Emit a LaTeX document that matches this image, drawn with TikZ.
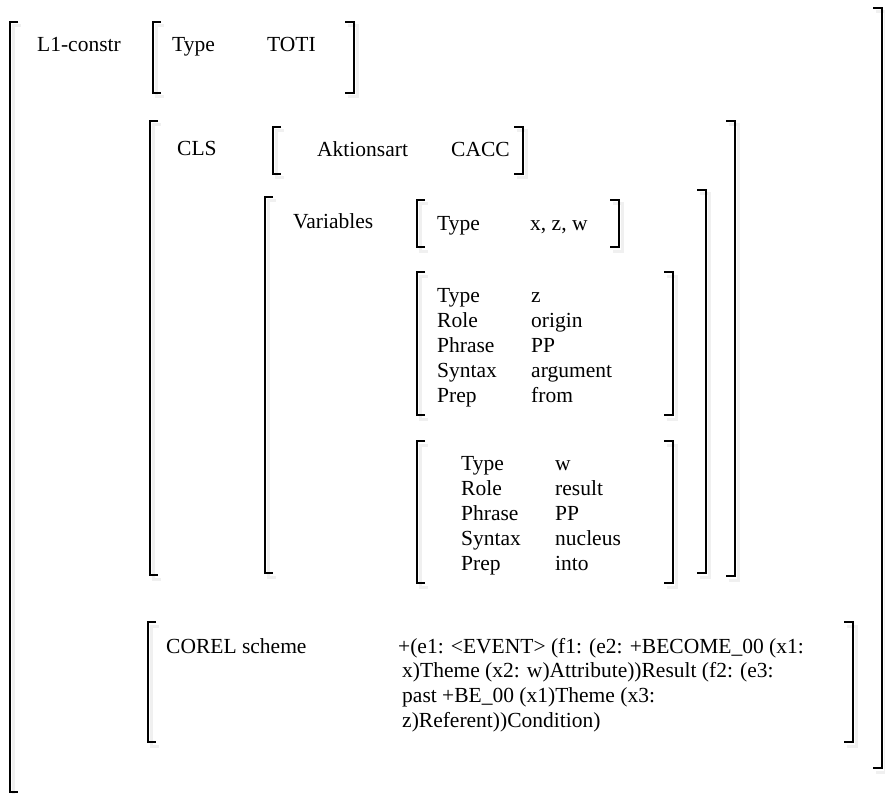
\documentclass[tikz,border=0pt]{standalone}
\usepackage{fontspec}
\setmainfont{Liberation Serif}
\usepackage{tikz}
\tikzset{
  brk/.style={line width=1.7pt, draw=black},
  brkshadow/.style={line width=3pt, draw=black!6},
  lbl/.style={anchor=base west, inner sep=0pt, font=\fontsize{21.5}{25}\selectfont}
}
% left and right brackets: x, top, bottom
\newcommand{\lbrk}[3]{%
  \draw[brkshadow] (#1+11,#2+4) -- (#1+3,#2+4) -- (#1+3,#3+4) -- (#1+11,#3+4);
  \draw[brk] (#1+8,#2) -- (#1,#2) -- (#1,#3) -- (#1+8,#3);}
\newcommand{\rbrk}[3]{%
  \draw[brkshadow] (#1-6,#2+4) -- (#1+3,#2+4) -- (#1+3,#3+4) -- (#1-6,#3+4);
  \draw[brk] (#1-9,#2) -- (#1,#2) -- (#1,#3) -- (#1-9,#3);}

\begin{document}
\begin{tikzpicture}[x=1pt,y=-1pt]
        \useasboundingbox (0,0) rectangle (885,794);

        % Brackets
        \lbrk{10}{22}{792}   \rbrk{882}{8}{768}
        \lbrk{153}{22}{93}   \rbrk{354}{22}{93}
        \lbrk{150}{121}{575} \rbrk{735}{121}{576}
        \lbrk{273}{127}{174} \rbrk{523}{127}{174}
        \lbrk{265}{197}{573} \rbrk{706}{190}{573}
        \lbrk{417}{200}{247} \rbrk{619}{200}{247}
        \lbrk{417}{272}{415} \rbrk{673}{272}{415}
        \lbrk{417}{441}{583} \rbrk{673}{441}{583}
        \lbrk{148}{622}{742} \rbrk{853}{622}{742}

        % Top level
        \node[lbl] (l1constr) at (37,52) {L1-constr};
        \node[lbl] (toti_attr) at (172,52) {Type};
        \node[lbl] (toti_val) at (267,52) {TOTI};

        % CLS
        \node[lbl] (cls) at (177,156) {CLS};
        \node[lbl] (akt_attr) at (317,157) {Aktionsart};
        \node[lbl] (akt_val) at (451,157) {CACC};

        % Variables
        \node[lbl] (variables) at (293,229) {Variables};
        \node[lbl] (vtype_attr) at (437,230) {Type};
        \node[lbl] (vtype_val) at (530,230) {x, z, w};

        \foreach \k/\a/\v in {0/Type/z, 1/Role/origin, 2/Phrase/PP, 3/Syntax/argument, 4/Prep/from}{
          \node[lbl] (zattr\k) at (437,302+25*\k) {\a};
          \node[lbl] (zval\k) at (531,302+25*\k) {\v};
        }
        \foreach \k/\a/\v in {0/Type/w, 1/Role/result, 2/Phrase/PP, 3/Syntax/nucleus, 4/Prep/into}{
          \node[lbl] (wattr\k) at (461,470+25*\k) {\a};
          \node[lbl] (wval\k) at (555,470+25*\k) {\v};
        }

        % COREL scheme
        \node[lbl] (corel) at (166,653) {COREL scheme};
        \node[lbl] (corel1) at (398,653) {+(e1: <EVENT> (f1: (e2: +BECOME\_00 (x1:};
        \node[lbl] (corel2) at (402,677) {x)Theme (x2: w)Attribute))Result (f2: (e3:};
        \node[lbl] (corel3) at (402,702) {past +BE\_00 (x1)Theme (x3:};
        \node[lbl] (corel4) at (402,727) {z)Referent))Condition)};
\end{tikzpicture}
\end{document}
